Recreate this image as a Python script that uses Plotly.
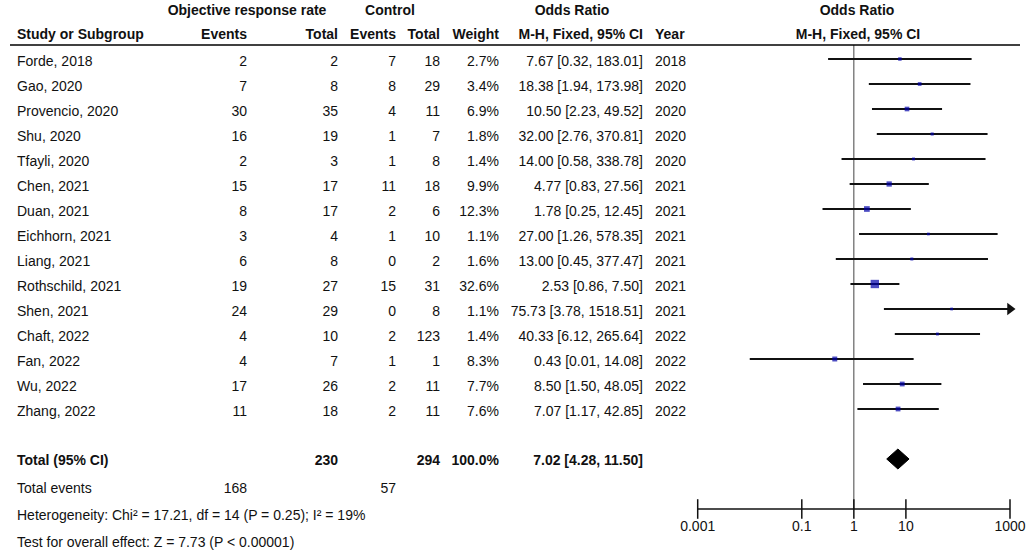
import numpy as np
import plotly.graph_objects as go

# Study data
studies = ["Forde, 2018", "Gao, 2020", "Provencio, 2020", "Shu, 2020", "Tfayli, 2020",
           "Chen, 2021", "Duan, 2021", "Eichhorn, 2021", "Liang, 2021", "Rothschild, 2021",
           "Shen, 2021", "Chaft, 2022", "Fan, 2022", "Wu, 2022", "Zhang, 2022"]
exp_events = [2, 7, 30, 16, 2, 15, 8, 3, 6, 19, 24, 4, 4, 17, 11]
exp_total = [2, 8, 35, 19, 3, 17, 17, 4, 8, 27, 29, 10, 7, 26, 18]
ctl_events = [7, 8, 4, 1, 1, 11, 2, 1, 0, 15, 0, 2, 1, 2, 2]
ctl_total = [18, 29, 11, 7, 8, 18, 6, 10, 2, 31, 8, 123, 1, 11, 11]
weights = [2.7, 3.4, 6.9, 1.8, 1.4, 9.9, 12.3, 1.1, 1.6, 32.6, 1.1, 1.4, 8.3, 7.7, 7.6]
or_est = [7.67, 18.38, 10.50, 32.00, 14.00, 4.77, 1.78, 27.00, 13.00, 2.53, 75.73, 40.33, 0.43, 8.50, 7.07]
ci_low = [0.32, 1.94, 2.23, 2.76, 0.58, 0.83, 0.25, 1.26, 0.45, 0.86, 3.78, 6.12, 0.01, 1.50, 1.17]
ci_high = [183.01, 173.98, 49.52, 370.81, 338.78, 27.56, 12.45, 578.35, 377.47, 7.50, 1518.51, 265.64, 14.08, 48.05, 42.85]
years = [2018, 2020, 2020, 2020, 2020, 2021, 2021, 2021, 2021, 2021, 2021, 2022, 2022, 2022, 2022]

# Pooled result
total_exp = 230
total_ctl = 294
total_events_exp = 168
total_events_ctl = 57
pooled = [7.02, 4.28, 11.50]
heterogeneity = "Heterogeneity: Chi² = 17.21, df = 14 (P = 0.25); I² = 19%"
overall_test = "Test for overall effect: Z = 7.73 (P < 0.00001)"

axis_ticks = [0.001, 0.1, 1, 10, 1000]
axis_labels = ["0.001", "0.1", "1", "10", "1000"]

FONT = "Liberation Sans, Arial, sans-serif"
FS = 14
W, H = 1026, 552

# layout helpers (pixel positions)
row0, step = 59, 25
line_y = [row0 + step * i for i in range(len(studies))]
text_y = [y + 3 for y in line_y]
total_y = row0 + step * 16
foot_y = [489, 516, 543]
xmax = 1000

fig = go.Figure()


def col_text(xpos, texts, ys, pos="middle left", bold=False):
    if bold:
        texts = ["<b>%s</b>" % t for t in texts]
    fig.add_trace(go.Scatter(
        x=[xpos] * len(texts), y=ys, text=texts, mode="text",
        textposition=pos, textfont=dict(family=FONT, size=FS, color="#111"),
        xaxis="x2", yaxis="y", hoverinfo="skip", cliponaxis=False))


# header
col_text(247, ["Objective response rate"], [11], pos="middle center", bold=True)
col_text(390, ["Control"], [11], pos="middle center", bold=True)
col_text(572, ["Odds Ratio"], [11], pos="middle center", bold=True)
col_text(857, ["Odds Ratio"], [11], pos="middle center", bold=True)
col_text(17, ["Study or Subgroup"], [35], pos="middle right", bold=True)
col_text(247, ["Events"], [35], bold=True)
col_text(338, ["Total"], [35], bold=True)
col_text(396, ["Events"], [35], bold=True)
col_text(440, ["Total"], [35], bold=True)
col_text(499, ["Weight"], [35], bold=True)
col_text(643, ["M-H, Fixed, 95% CI"], [35], bold=True)
col_text(655, ["Year"], [35], pos="middle right", bold=True)
col_text(858, ["M-H, Fixed, 95% CI"], [35], pos="middle center", bold=True)

# study rows
col_text(17, studies, text_y, pos="middle right")
col_text(247, [str(v) for v in exp_events], text_y)
col_text(338, [str(v) for v in exp_total], text_y)
col_text(396, [str(v) for v in ctl_events], text_y)
col_text(440, [str(v) for v in ctl_total], text_y)
col_text(499, ["%.1f%%" % w for w in weights], text_y)
col_text(643, ["%.2f [%.2f, %.2f]" % (o, l, h) for o, l, h in zip(or_est, ci_low, ci_high)], text_y)
col_text(655, [str(y) for y in years], text_y, pos="middle right")

# totals / footer
ty = total_y + 2
col_text(17, ["Total (95% CI)"], [ty], pos="middle right", bold=True)
col_text(338, [str(total_exp)], [ty], bold=True)
col_text(440, [str(total_ctl)], [ty], bold=True)
col_text(499, ["100.0%"], [ty], bold=True)
col_text(643, ["%.2f [%.2f, %.2f]" % tuple(pooled)], [ty], bold=True)
col_text(17, ["Total events"], [foot_y[0]], pos="middle right")
col_text(247, [str(total_events_exp)], [foot_y[0]])
col_text(396, [str(total_events_ctl)], [foot_y[0]])
col_text(17, [heterogeneity], [foot_y[1]], pos="middle right")
col_text(17, [overall_test], [foot_y[2]], pos="middle right")

# header rule
fig.add_shape(type="line", xref="paper", yref="y", x0=10 / W, x1=1020 / W,
              y0=45, y1=45, line=dict(color="black", width=1.5))

# line of no effect
fig.add_trace(go.Scatter(x=[1, 1], y=[45, 509], mode="lines",
                         line=dict(color="#444", width=1), hoverinfo="skip",
                         cliponaxis=False))

# confidence intervals
cx, cy = [], []
for lo, hi, y in zip(ci_low, ci_high, line_y):
    cx += [lo, min(hi, xmax), None]
    cy += [y, y, None]
fig.add_trace(go.Scatter(x=cx, y=cy, mode="lines", line=dict(color="#111", width=2),
                         hoverinfo="skip", cliponaxis=False))

# arrows for intervals beyond the axis
arr = [i for i, h in enumerate(ci_high) if h > xmax]
fig.add_trace(go.Scatter(x=[xmax] * len(arr), y=[line_y[i] for i in arr], mode="markers",
                         marker=dict(symbol="triangle-right", size=11, color="#111"),
                         hoverinfo="skip", cliponaxis=False))

# point estimates
sizes = [1.5 + 1.2 * np.sqrt(w) for w in weights]
fig.add_trace(go.Scatter(x=or_est, y=line_y, mode="markers",
                         marker=dict(symbol="square", size=sizes, color="#0000A8",
                                     line=dict(width=0)),
                         hoverinfo="skip", cliponaxis=False))

# pooled diamond
dh = 10
fig.add_trace(go.Scatter(x=[pooled[1], pooled[0], pooled[2], pooled[0], pooled[1]],
                         y=[total_y, total_y - dh, total_y, total_y + dh, total_y],
                         mode="lines", fill="toself", fillcolor="black",
                         line=dict(color="black", width=1), hoverinfo="skip",
                         cliponaxis=False))

# bottom axis
ay = 509
fig.add_trace(go.Scatter(x=[axis_ticks[0], axis_ticks[-1]], y=[ay, ay], mode="lines",
                         line=dict(color="#111", width=1.5), hoverinfo="skip",
                         cliponaxis=False))
fig.add_trace(go.Scatter(x=axis_ticks, y=[ay] * len(axis_ticks), mode="markers",
                         marker=dict(symbol="line-ns-open", size=14, color="#111",
                                     line=dict(color="#111", width=1.5)),
                         hoverinfo="skip", cliponaxis=False))
fig.add_trace(go.Scatter(x=axis_ticks, y=[527] * len(axis_ticks), text=axis_labels,
                         mode="text", textposition="middle center",
                         textfont=dict(family=FONT, size=FS, color="#111"),
                         hoverinfo="skip", cliponaxis=False))

fig.update_layout(
    width=W, height=H,
    margin=dict(l=0, r=0, t=0, b=0),
    paper_bgcolor="white", plot_bgcolor="rgba(0,0,0,0)",
    showlegend=False,
    xaxis=dict(type="log", range=[-3, 3], domain=[697.7 / W, 1010 / W],
               visible=False, anchor="y"),
    xaxis2=dict(range=[0, W], domain=[0, 1], visible=False, anchor="y"),
    yaxis=dict(range=[H, 0], domain=[0, 1], visible=False),
)

# drop the default page margin so the figure sits at the window origin
fig.write_html("out.html", config={"displayModeBar": False},
               post_script="document.body.style.margin='0';")
